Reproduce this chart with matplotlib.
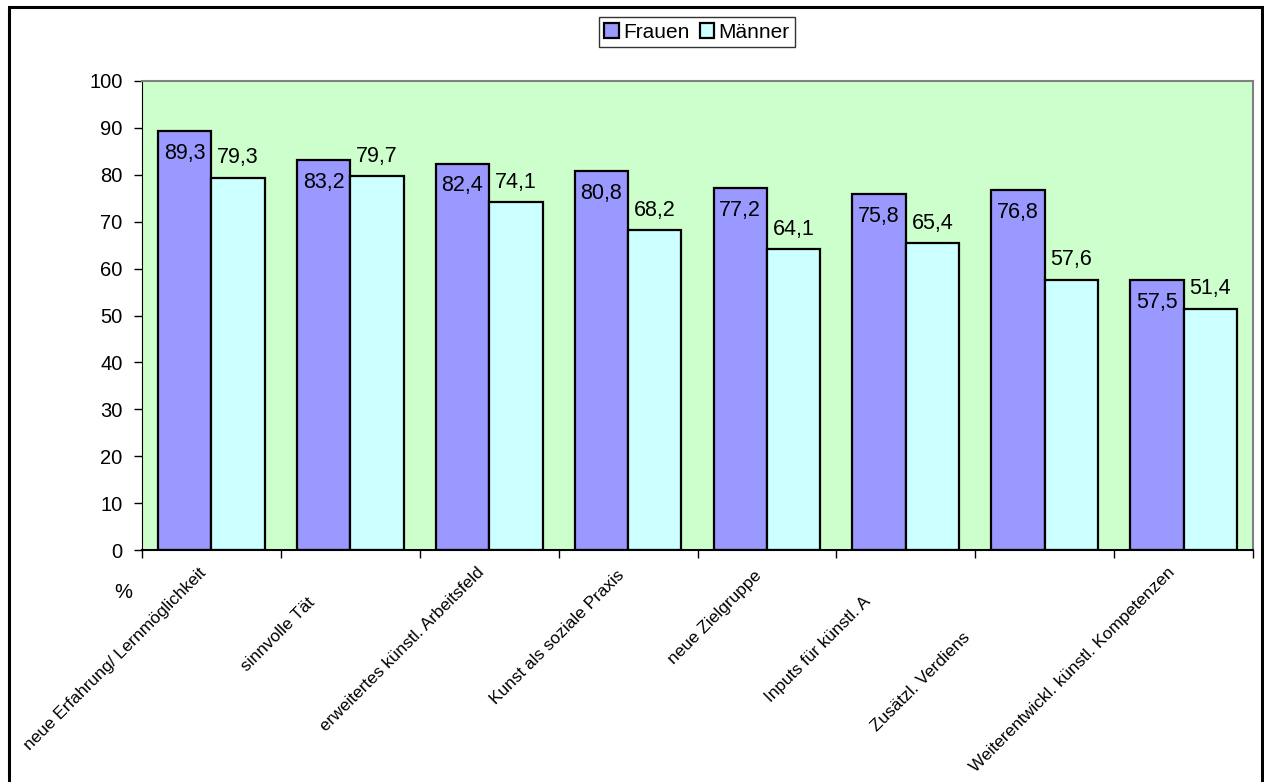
import matplotlib
matplotlib.use("Agg")
import matplotlib.pyplot as plt
import matplotlib.transforms as mtransforms
from matplotlib.patches import Rectangle
import numpy as np

plt.rcParams["font.family"] = ["Liberation Sans", "DejaVu Sans"]

categories = [
    "neue Erfahrung/ Lernmöglichkeit",
    "sinnvolle Tät",
    "erweitertes künstl. Arbeitsfeld",
    "Kunst als soziale Praxis",
    "neue Zielgruppe",
    "Inputs für künstl. A",
    "Zusätzl. Verdiens",
    "Weiterentwickl. künstl. Kompetenzen",
]
frauen = [89.3, 83.2, 82.4, 80.8, 77.2, 75.8, 76.8, 57.5]
maenner = [79.3, 79.7, 74.1, 68.2, 64.1, 65.4, 57.6, 51.4]
series_names = ["Frauen", "Männer"]
yticks = list(range(0, 101, 10))

col_f = "#9999FF"
col_m = "#CCFFFF"
plot_bg = "#CCFFCC"

W, H = 1264, 782
fig = plt.figure(figsize=(W / 100, H / 100), dpi=100)
fig.patch.set_facecolor("white")

# outer chart frame
fig.add_artist(Rectangle((9 / W, -0.05), (1262 - 9) / W, 1.05 - 7 / H,
                         transform=fig.transFigure, fill=False,
                         edgecolor="black", linewidth=2.2, clip_on=False))

ax = fig.add_axes([142 / W, 1 - 550 / H, (1253 - 142) / W, (550 - 81) / H])
ax.set_facecolor(plot_bg)

n = len(categories)
x = np.arange(n)
bw = 1 / 2.6
bars_f = ax.bar(x - bw / 2, frauen, bw, color=col_f, edgecolor="black",
                linewidth=1.6, label=series_names[0], zorder=3)
bars_m = ax.bar(x + bw / 2, maenner, bw, color=col_m, edgecolor="black",
                linewidth=1.6, label=series_names[1], zorder=3)

ax.set_xlim(-0.5, n - 0.5)
ax.set_ylim(0, 100)
ax.set_yticks(yticks)
ax.set_yticklabels([str(t) for t in yticks], fontsize=14.5)
ax.set_xticks(np.arange(n + 1) - 0.5)
ax.set_xticklabels([])
ax.tick_params(axis="y", direction="out", length=6, width=1, pad=8)
ax.tick_params(axis="x", direction="out", length=6, width=1)

for side in ("top", "right"):
    ax.spines[side].set_color("#808080")
    ax.spines[side].set_linewidth(1.5)
ax.spines["left"].set_color("black")
ax.spines["bottom"].set_color("black")
ax.spines["bottom"].set_linewidth(1.5)
ax.spines["bottom"].set_zorder(4)

def fmt(v):
    return f"{v:.1f}".replace(".", ",")

# value labels: Frauen inside the bar top, Männer above the bar
for b, v in zip(bars_f, frauen):
    ax.annotate(fmt(v), (b.get_x() + b.get_width() / 2, v), xytext=(0, -16),
                textcoords="offset points", ha="center", va="center",
                fontsize=15.5, zorder=5)
for b, v in zip(bars_m, maenner):
    ax.annotate(fmt(v), (b.get_x() + b.get_width() / 2, v), xytext=(0, 14.5),
                textcoords="offset points", ha="center", va="center",
                fontsize=15.5, zorder=5)

# rotated category labels (pixel offsets of their upper end)
label_offsets = [(-13, -15), (-43, -45), (-13, -15), (-12, -17),
                 (-13, -18), (-43, -44), (-82, -80), (-16, -15)]
for i, (lab, (dx, dy)) in enumerate(zip(categories, label_offsets)):
    tr = ax.get_xaxis_transform() + mtransforms.ScaledTranslation(
        dx / 100, dy / 100, fig.dpi_scale_trans)
    ax.text(i, 0, lab, transform=tr, rotation=45, rotation_mode="anchor",
            ha="right", va="top", fontsize=12.4, clip_on=False)

fig.text(123 / W, 1 - 592 / H, "%", ha="center", va="center", fontsize=14.5)

leg = fig.legend(handles=[bars_f, bars_m], labels=series_names,
                 loc="center", bbox_to_anchor=(697 / W, 1 - 32 / H),
                 ncol=2, frameon=True, fancybox=False, fontsize=15,
                 handlelength=0.7, handleheight=0.7, handletextpad=0.2,
                 columnspacing=0.5, borderpad=0.25, borderaxespad=0)
leg.get_frame().set_edgecolor("black")
leg.get_frame().set_linewidth(1.0)

fig.savefig("out.png", dpi=100, facecolor="white")
